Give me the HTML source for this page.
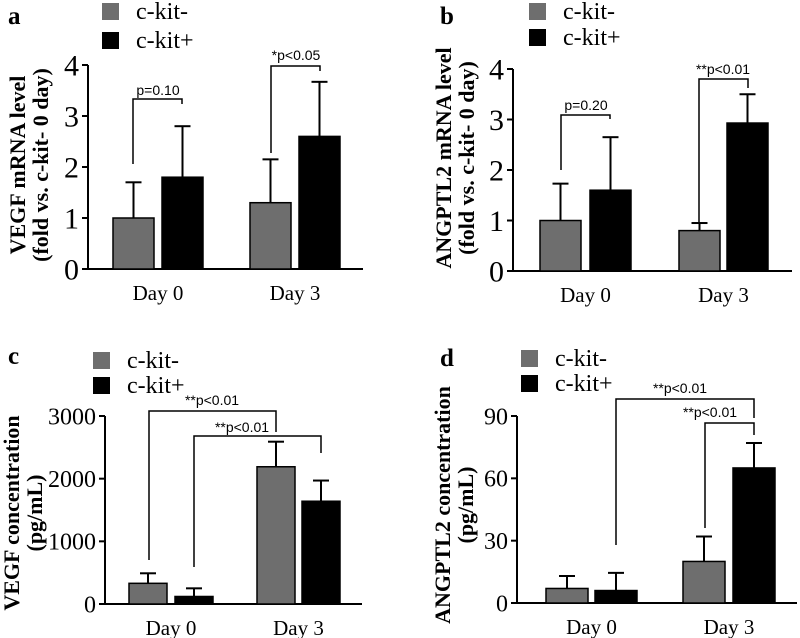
<!DOCTYPE html>
<html><head><meta charset="utf-8"><style>
html,body{margin:0;padding:0;background:#fff;}
svg{display:block;}
</style></head><body>
<svg id="fig" width="800" height="638" viewBox="0 0 800 638" xmlns="http://www.w3.org/2000/svg"></svg>
<script>
const categories = ["Day 0", "Day 3"];
const seriesNames = ["c-kit-", "c-kit+"];
// panel a
const aNeg = [1.0, 1.3];
const aPos = [1.8, 2.6];
const aNegErr = [1.7, 2.15];
const aPosErr = [2.8, 3.67];
const aTicks = ["0","1","2","3","4"];
// panel b
const bNeg = [1.0, 0.8];
const bPos = [1.6, 2.93];
const bNegErr = [1.73, 0.95];
const bPosErr = [2.65, 3.5];
const bTicks = ["0","1","2","3","4"];
// panel c
const cNeg = [330, 2190];
const cPos = [120, 1640];
const cNegErr = [490, 2590];
const cPosErr = [250, 1970];
const cTicks = ["0","1000","2000","3000"];
// panel d
const dNeg = [7, 20];
const dPos = [6, 65];
const dNegErr = [13, 32];
const dPosErr = [14.5, 77];
const dTicks = ["0","30","60","90"];

const NS = "http://www.w3.org/2000/svg";
const svg = document.getElementById('fig');
function mk(tag, attrs, parent, text) {
  const e = document.createElementNS(NS, tag);
  for (const k in attrs) e.setAttribute(k, attrs[k]);
  if (text !== undefined) e.textContent = text;
  (parent || svg).appendChild(e);
  return e;
}
function panel(p) {
  const g = mk('g', {});
  
  
  const max = parseFloat(p.ticks[p.ticks.length - 1]);
  const y = v => p.y0 - (v / max) * (p.y0 - p.yTop);
  const bx = (ci, si) => p.barX[ci * 2 + si];
  const lt = mk('text', {x: p.letterX, y: p.letterY, 'font-family': 'Liberation Serif, serif', 'font-weight': 'bold', 'font-size': 25}, g, p.id);
  
  
  const leg = mk('g', {}, g);
  
  
  [['#6e6e6e', seriesNames[0], p.legY[0]], ['#000', seriesNames[1], p.legY[1]]].forEach((L, i) => {
    const r = mk('rect', {x: p.legX, y: L[2], width: 17, height: 17, fill: L[0]}, leg);
    
    
    const t = mk('text', {x: p.legX + 34, y: L[2] + 16, 'font-family': 'Liberation Serif, serif', 'font-size': 24}, leg, L[1]);
    
    
  });
  const ax = mk('line', {x1: p.ax, y1: p.yTop, x2: p.ax, y2: p.y0, stroke: '#000', 'stroke-width': 2}, g);
  
  
  const xa = mk('line', {x1: p.ax - 5, y1: p.y0, x2: p.axEnd, y2: p.y0, stroke: '#000', 'stroke-width': 2}, g);
  
  
  p.ticks.forEach(tk => {
    const yy = y(parseFloat(tk));
    const tl = mk('line', {x1: p.ax - 6, y1: yy, x2: p.ax, y2: yy, stroke: '#000', 'stroke-width': 2}, g);
    
    
    const tt = mk('text', {x: p.ax - 9, y: yy + p.tickFs * 0.35, 'text-anchor': 'end', 'font-family': 'Liberation Serif, serif', 'font-size': p.tickFs}, g, tk);
    
    
  });
  const yt = mk('text', {transform: `translate(${p.titleX},${p.titleY}) rotate(-90)`, 'text-anchor': 'middle', 'font-family': 'Liberation Serif, serif', 'font-weight': 'bold', 'font-size': 22}, g);
  
  
  p.title.forEach((line, i) => {
    mk('tspan', {x: 0, dy: i === 0 ? 0 : 23}, yt, line);
  });
  const series = [[p.neg, p.negErr, '#6e6e6e'], [p.pos, p.posErr, '#000']];
  categories.forEach((c, ci) => {
    series.forEach((s, si) => {
      const x0 = bx(ci, si), w = p.barW;
      const cx = x0 + w / 2;
      const eb = mk('line', {x1: cx, y1: y(s[0][ci]), x2: cx, y2: y(s[1][ci]), stroke: '#000', 'stroke-width': 2}, g);
      
      
      const cap = mk('line', {x1: cx - 8, y1: y(s[1][ci]), x2: cx + 8, y2: y(s[1][ci]), stroke: '#000', 'stroke-width': 2}, g);
      
      
      const r = mk('rect', {x: x0, y: y(s[0][ci]), width: w, height: y(0) - y(s[0][ci]), fill: s[2], stroke: '#000', 'stroke-width': 1.5}, g);
      
      
    });
    const cl = mk('text', {x: (bx(ci, 0) + bx(ci, 1) + p.barW) / 2, y: p.y0 + 31, 'text-anchor': 'middle', 'font-family': 'Liberation Serif, serif', 'font-size': 21}, g, c);
    
    
  });
  p.brackets.forEach(b => {
    const pl = mk('polyline', {points: `${b.x1},${b.b1} ${b.x1},${b.top} ${b.x2},${b.top} ${b.x2},${b.b2}`, fill: 'none', stroke: '#000', 'stroke-width': 1.5}, g);
    
    
    const t = mk('text', {x: b.tx, y: b.ty, 'text-anchor': 'middle', 'font-family': 'Liberation Sans, sans-serif', 'font-size': 14}, g, b.label);
    
    
  });
}
panel({id: 'a', neg: aNeg, pos: aPos, negErr: aNegErr, posErr: aPosErr, ticks: aTicks,
  ax: 88, axEnd: 363, y0: 269, yTop: 65, barX: [113, 162, 250, 299], barW: 41, tickFs: 30,
  letterX: 8, letterY: 24, legX: 102, legY: [3, 32], titleX: 25, titleY: 165,
  title: ['VEGF mRNA level', '(fold vs. c-kit- 0 day)'],
  brackets: [{x1: 133, b1: 164, x2: 182, b2: 104, top: 99, tx: 158, ty: 95, label: 'p=0.10'},
             {x1: 271, b1: 153, x2: 320, b2: 71, top: 66, tx: 296, ty: 60, label: '*p<0.05'}]});
panel({id: 'b', neg: bNeg, pos: bPos, negErr: bNegErr, posErr: bPosErr, ticks: bTicks,
  ax: 513, axEnd: 792, y0: 271, yTop: 69, barX: [540, 590, 679, 727], barW: 41, tickFs: 30,
  letterX: 440, letterY: 24, legX: 529, legY: [3, 29], titleX: 451, titleY: 158,
  title: ['ANGPTL2 mRNA level', '(fold vs. c-kit- 0 day)'],
  brackets: [{x1: 561, b1: 170, x2: 610, b2: 119, top: 115, tx: 586, ty: 110, label: 'p=0.20'},
             {x1: 699, b1: 222, x2: 748, b2: 88, top: 79, tx: 723, ty: 74, label: '**p<0.01'}]});
panel({id: 'c', neg: cNeg, pos: cPos, negErr: cNegErr, posErr: cPosErr, ticks: cTicks,
  ax: 105, axEnd: 362, y0: 604, yTop: 416, barX: [129, 175, 257, 302], barW: 38, tickFs: 24,
  letterX: 8, letterY: 364, legX: 93, legY: [352, 377], titleX: 19, titleY: 513,
  title: ['VEGF concentration', '(pg/mL)'],
  brackets: [{x1: 149, b1: 560, x2: 276, b2: 432, top: 411, tx: 212, ty: 405, label: '**p<0.01'},
             {x1: 194, b1: 567, x2: 321, b2: 453, top: 436, tx: 242, ty: 432, label: '**p<0.01'}]});
panel({id: 'd', neg: dNeg, pos: dPos, negErr: dNegErr, posErr: dPosErr, ticks: dTicks,
  ax: 517, axEnd: 797, y0: 603, yTop: 416, barX: [546, 595, 683, 733], barW: 42, tickFs: 24,
  letterX: 440, letterY: 366, legX: 521, legY: [350, 375], titleX: 450, titleY: 505,
  title: ['ANGPTL2 concentration', '(pg/mL)'],
  brackets: [{x1: 616, b1: 545, x2: 754, b2: 418, top: 399, tx: 680, ty: 393, label: '**p<0.01'},
             {x1: 705, b1: 528, x2: 754, b2: 435, top: 423, tx: 710, ty: 417, label: '**p<0.01'}]});
</script>
</body></html>
